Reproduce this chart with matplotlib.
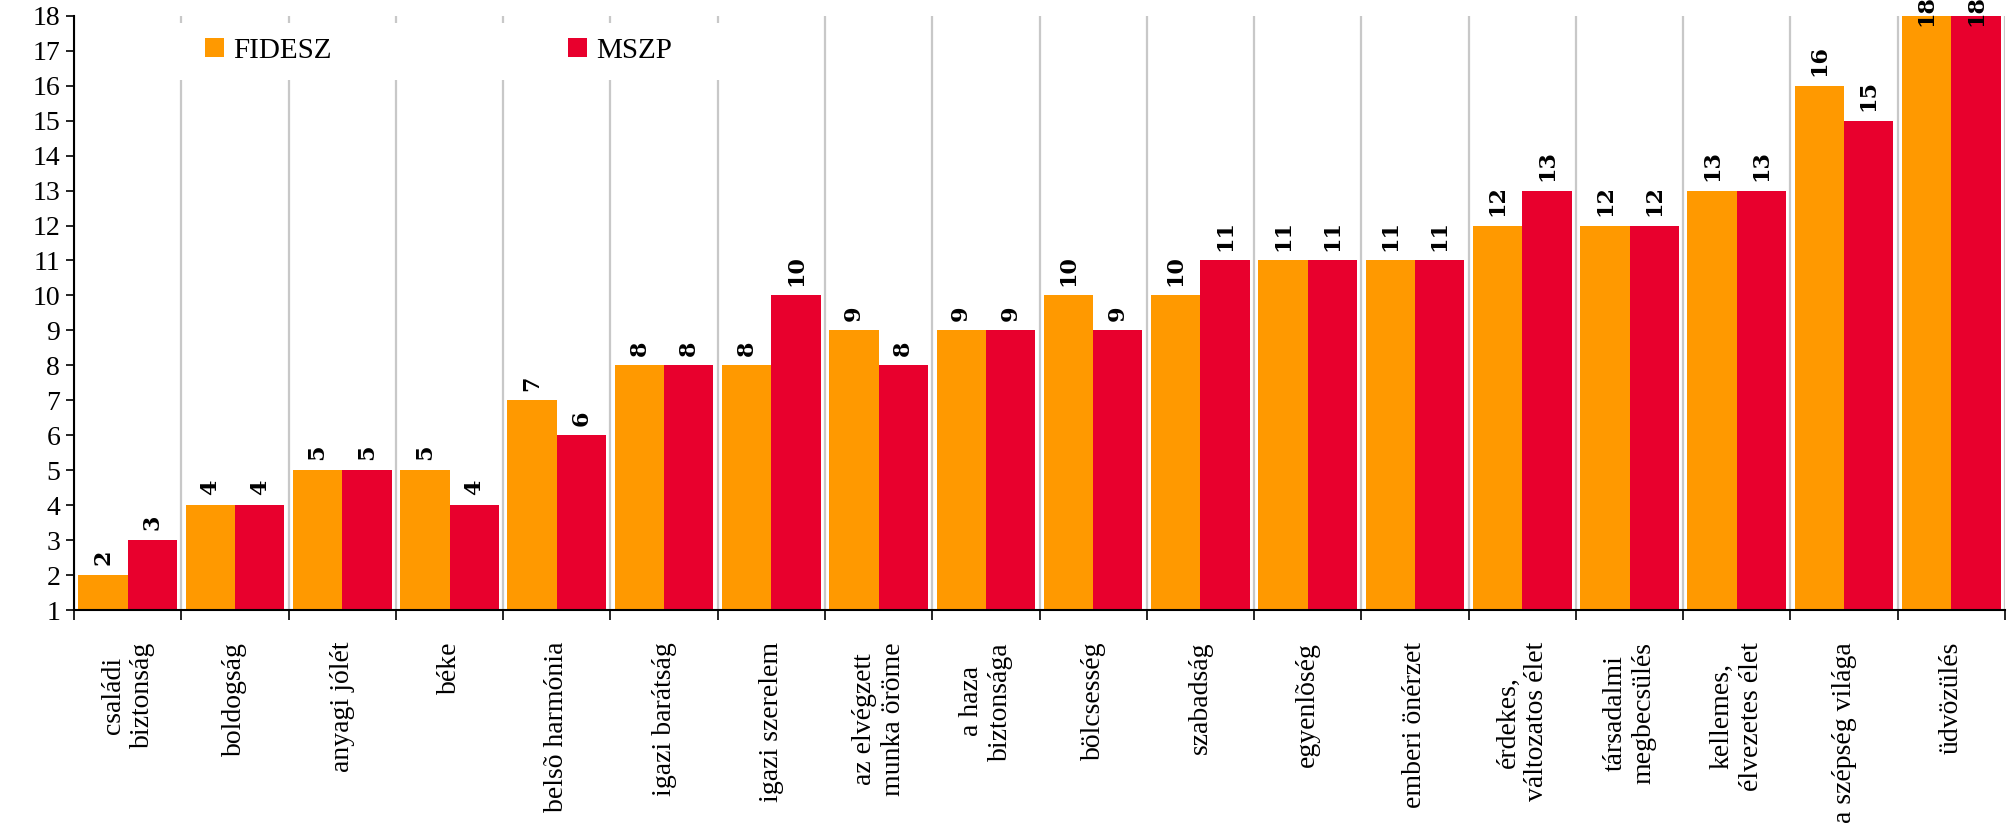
import matplotlib

matplotlib.use("Agg")
import matplotlib.pyplot as plt
import numpy as np
from matplotlib.patches import Patch, Rectangle

categories = [
    "családi\nbiztonság", "boldogság", "anyagi jólét", "béke", "belsõ harmónia",
    "igazi barátság", "igazi szerelem", "az elvégzett\nmunka öröme", "a haza\nbiztonsága",
    "bölcsesség", "szabadság", "egyenlõség", "emberi önérzet", "érdekes,\nváltozatos élet",
    "társadalmi\nmegbecsülés", "kellemes,\nélvezetes élet", "a szépség világa", "üdvözülés",
]
fidesz = [2, 4, 5, 5, 7, 8, 8, 9, 9, 10, 10, 11, 11, 12, 12, 13, 16, 18]
mszp = [3, 4, 5, 4, 6, 8, 10, 8, 9, 9, 11, 11, 11, 13, 12, 13, 15, 18]
series_names = ["FIDESZ", "MSZP"]
yticks = list(range(1, 19))

ORANGE = "#FF9900"
RED = "#E8002D"
SERIF = "Liberation Serif"

fig = plt.figure(figsize=(20.13, 8.33), dpi=100)
ax = fig.add_axes([0.0368, 0.2677, 0.9592, 0.7133])

x = np.arange(len(categories)) + 0.5
w = 0.46
base, top = yticks[0], yticks[-1]
for vals, off, col in [(fidesz, -w / 2, ORANGE), (mszp, w / 2, RED)]:
    h = np.array(vals) - base
    ax.bar(x + off, h, width=w, bottom=base, color=col, zorder=2)
    for xi, v in zip(x + off, vals):
        # labels at the axis top get pushed down, as in the original
        dy = 7 if v < top else -7
        ax.annotate(str(v), (xi, v), xytext=(0, dy), textcoords="offset points",
                    rotation=90, ha="center", va="bottom", fontsize=16,
                    fontweight="bold", family="DejaVu Serif", annotation_clip=False,
                    zorder=4)

ax.set_xlim(0, len(categories))
ax.set_ylim(base, top)
ax.set_yticks(yticks)
ax.set_yticklabels([str(t) for t in yticks], fontsize=20, family=SERIF)
ax.tick_params(axis="y", direction="out", length=6, width=1.2, pad=4)

ax.set_xticks(x)
ax.set_xticklabels(categories, rotation=90, fontsize=20, family=SERIF,
                   ha="center", va="top", multialignment="center")
ax.set_xticks(np.arange(len(categories) + 1), minor=True)
ax.tick_params(axis="x", which="major", length=0, pad=23)
ax.tick_params(axis="x", which="minor", direction="out", length=7, width=1.2)
ax.grid(which="minor", axis="x", color="#c8c8c8", lw=1.6)
ax.set_axisbelow(True)

for s in ["top", "right"]:
    ax.spines[s].set_visible(False)
for s in ["left", "bottom"]:
    ax.spines[s].set_linewidth(1.5)
    ax.spines[s].set_zorder(3)

# white strip behind the legend, hides the gridlines like the original
ax.add_patch(Rectangle((0.9, 16.17), 5.2, 1.63, facecolor="white",
                       edgecolor="none", zorder=1))
handles = [Patch(facecolor=ORANGE), Patch(facecolor=RED)]
ax.legend(handles, series_names, loc="center left", bbox_to_anchor=(1.22, 17.0),
          bbox_transform=ax.transData, ncol=2, frameon=False, borderpad=0,
          borderaxespad=0, handlelength=0.66, handleheight=0.66,
          handletextpad=0.3, columnspacing=8.1,
          prop={"family": SERIF, "size": 21})

fig.savefig("out.png", dpi=100)
